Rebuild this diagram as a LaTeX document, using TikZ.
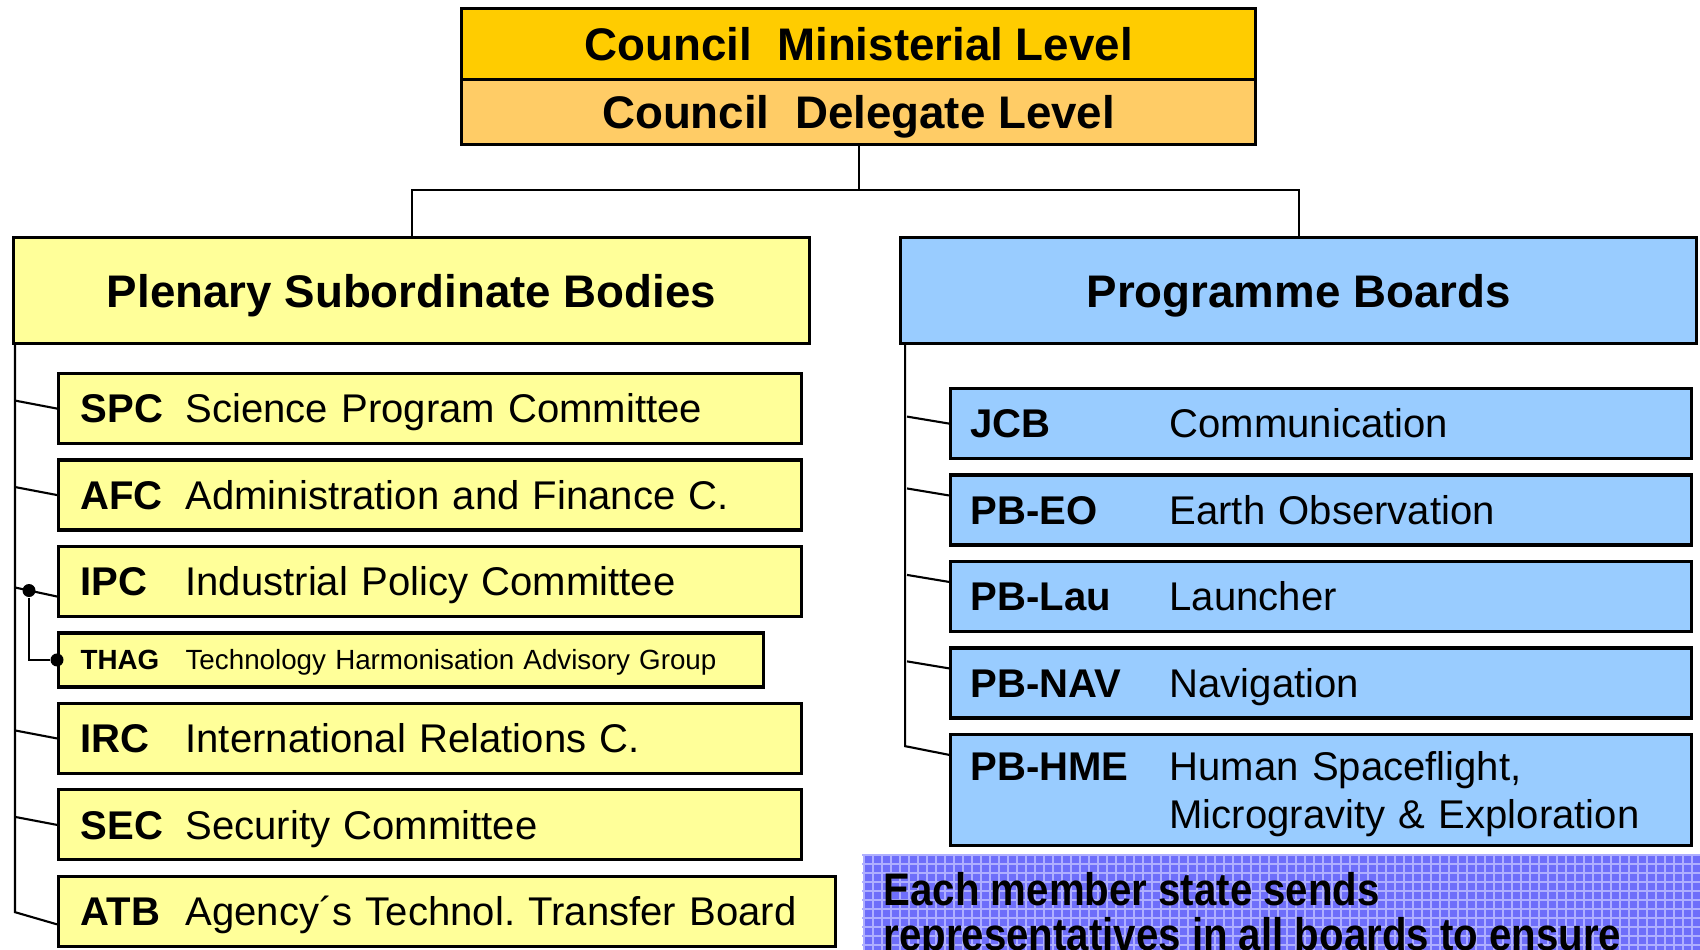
\documentclass[tikz,border=0pt]{standalone}
\usepackage{fontspec}
\setmainfont{Liberation Sans}
\newfontfamily\narrowfont{Liberation Sans}[FakeStretch=0.88]
\usetikzlibrary{positioning}

\definecolor{minister}{RGB}{255,204,0}
\definecolor{delegate}{RGB}{255,204,102}
\definecolor{plenyellow}{RGB}{255,255,153}
\definecolor{boardblue}{RGB}{153,204,255}
\definecolor{noteblue}{RGB}{110,110,250}
\definecolor{gridblue}{RGB}{175,175,255}

\newcommand{\itemfont}{\fontsize{11.4}{13.8}\selectfont}
\newcommand{\smallitemfont}{\fontsize{7.9}{9.5}\selectfont}
\newcommand{\headfont}{\fontsize{13}{15.6}\selectfont\bfseries}
\newcommand{\notefont}{\narrowfont\fontsize{13}{12.8}\selectfont\bfseries}
\newcommand{\leftitem}[2]{\makebox[10.5mm][l]{\bfseries #1}#2}
\newcommand{\rightitem}[2]{\makebox[19.9mm][l]{\bfseries #1}#2}

\begin{document}
\frenchspacing
\begin{tikzpicture}[x=0.1mm,y=-0.1mm,
    box/.style={draw,line width=0.9pt,inner sep=0pt,minimum height=7mm},
    title/.style={font=\headfont,text height=9.4pt,text depth=0pt},
    head/.style={box,title,minimum width=79.6mm,minimum height=10.6mm},
    plen/.style={box,fill=plenyellow,anchor=north west,align=left,text width=69.9mm,inner xsep=2.2mm,font=\itemfont,text height=8.2pt,text depth=0pt},
    board/.style={box,fill=boardblue,anchor=north west,align=left,text width=70.1mm,inner xsep=2mm,font=\itemfont,text height=8.2pt,text depth=0pt},
    below box/.style={below=1.33mm of #1.south west,anchor=north west},
    spoke/.style={line width=0.6pt},
    dot/.style={circle,fill,inner sep=0pt,minimum size=1.3mm}]
    \clip (0,0) rectangle (1700,950);

    % council
    \node (minister) [box,title,fill=minister,minimum width=79.4mm,minimum height=7.1mm,anchor=north west] at (460,7) {Council\ \ Ministerial Level};
    \node (delegate) [box,title,fill=delegate,minimum width=79.4mm,minimum height=6.5mm,below=-0.9pt of minister] {Council\ \ Delegate Level};

    % the two groups
    \node (plenary) [head,fill=plenyellow,anchor=north west] at (12,236) {Plenary Subordinate Bodies};
    \node (boards) [head,fill=boardblue,right=8.8mm of plenary] {Programme Boards};
    \draw [spoke] (delegate.south) -- ++(0,44) coordinate (fork);
    \draw [spoke] (plenary.north) |- (fork) -| (boards.north);

    % plenary subordinate bodies
    \node (spc) [plen] at (57,372) {\leftitem{SPC}{Science Program Committee}};
    \node (afc) [plen,below box=spc] {\leftitem{AFC}{Administration and Finance C.}};
    \node (ipc) [plen,below box=afc] {\leftitem{IPC}{Industrial Policy Committee}};
    \node (thag) [plen,below box=ipc,minimum height=5.4mm,text width=66.1mm,font=\smallitemfont,text height=5.7pt] {\leftitem{THAG}{Technology Harmonisation Advisory Group}};
    \node (irc) [plen,below box=thag] {\leftitem{IRC}{International Relations C.}};
    \node (sec) [plen,below box=irc] {\leftitem{SEC}{Security Committee}};
    \node (atb) [plen,below box=sec,text width=73.3mm] {\leftitem{ATB}{Agency´s Technol. Transfer Board}};

    \draw [spoke] ([xshift=0.3mm]plenary.south west) -- ++(0,567) -- ([yshift=-1.3mm]atb.west);
    \foreach \n in {spc,afc,irc,sec}
        \draw [spoke] (\n.west) -- ++(-42,-8);
    \draw [spoke] ([yshift=-1.5mm]ipc.west) -- ++(-42,-9);
    \node (ipcdot) [dot] at ([xshift=-2.8mm,yshift=-0.9mm]ipc.west) {};
    \node (thagdot) [dot] at (thag.west) {};
    \draw [line width=0.45pt] (ipcdot) |- (thagdot);

    % programme boards
    \node (jcb) [board] at (949,387) {\rightitem{JCB}{Communication}};
    \node (eo) [board,below box=jcb] {\rightitem{PB-EO}{Earth Observation}};
    \node (lau) [board,below box=eo] {\rightitem{PB-Lau}{Launcher}};
    \node (nav) [board,below box=lau] {\rightitem{PB-NAV}{Navigation}};
    \node (hme) [board,below box=nav,minimum height=11.1mm,text depth=13.8pt] {\rightitem{PB-HME}{\parbox[t]{48mm}{Human Spaceflight,\\Microgravity \& Exploration}}};

    \draw [spoke] ([xshift=0.6mm]boards.south west) -- ++(0,401) -- ([yshift=-2.2mm]hme.north west);
    \draw [spoke] (jcb.west) -- ++(-42,-7);
    \foreach \n in {eo,lau,nav}
        \draw [spoke] ([yshift=-2.2mm]\n.north west) -- ++(-42,-7);

    % note
    \node (note) [fill=noteblue,anchor=north west,minimum width=83.8mm,minimum height=9.6mm,inner sep=0pt] at (862,854) {};
    \begin{scope}
        \clip (note.south west) rectangle (note.north east);
        \draw [gridblue,line width=0.3pt,step=0.9mm] (note.south west) grid (note.north east);
    \end{scope}
    \node (notetext) [anchor=north west,align=left,inner sep=0pt,font=\notefont] at (883,872) {Each member state sends\\representatives in all boards to ensure};
\end{tikzpicture}
\end{document}
